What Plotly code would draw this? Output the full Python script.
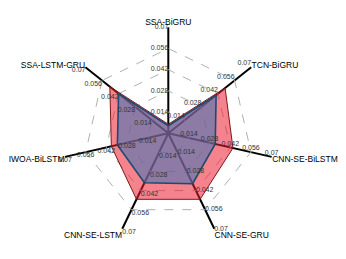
import plotly.graph_objects as go

categories = ['SSA-BiGRU', 'TCN-BiGRU', 'CNN-SE-BiLSTM', 'CNN-SE-GRU',
              'CNN-SE-LSTM', 'IWOA-BiLSTM', 'SSA-LSTM-GRU']
series_red = [0.0060, 0.0480, 0.0438, 0.0484, 0.0484, 0.0386, 0.0494]
series_blue = [0.0050, 0.0404, 0.0318, 0.0370, 0.0363, 0.0345, 0.0420]
tick_vals = [0.014, 0.028, 0.042, 0.056, 0.07]
tick_text = ['0.014', '0.028', '0.042', '0.056', '0.07']
label_pos = ['middle left', 'top left', 'top center', 'middle right',
             'bottom right', 'bottom center', 'bottom left']

# page body has an 8px margin; figure sized to fit inside the window
OFF = 8
W, H = 346 - OFF, 259 - OFF
cx, cy, R = 168.3 - OFF, 133.3 - OFF, 106

fig = go.Figure()

fig.add_trace(go.Scatterpolar(
    r=series_red + [series_red[0]], theta=categories + [categories[0]],
    mode='lines', fill='toself',
    fillcolor='rgba(235,30,50,0.55)',
    line=dict(color='#7a1a1a', width=1),
    hoverinfo='skip', showlegend=False, cliponaxis=False))

fig.add_trace(go.Scatterpolar(
    r=series_blue + [series_blue[0]], theta=categories + [categories[0]],
    mode='lines', fill='toself',
    fillcolor='rgba(71,118,181,0.6)',
    line=dict(color='#1d4a6e', width=1.6),
    hoverinfo='skip', showlegend=False, cliponaxis=False))

rr, tt, tx, tp = [], [], [], []
for cat, pos in zip(categories, label_pos):
    for v, t in zip(tick_vals, tick_text):
        rr.append(v); tt.append(cat); tx.append(t); tp.append(pos)

fig.add_trace(go.Scatterpolar(
    r=rr, theta=tt, text=tx, mode='text', textposition=tp,
    textfont=dict(size=7, color='#333333', family='Liberation Sans, Arial'),
    hoverinfo='skip', showlegend=False, cliponaxis=False))

fig.update_layout(
    width=W, height=H,
    margin=dict(l=0, r=0, t=0, b=0),
    paper_bgcolor='white',
    font=dict(family='Liberation Sans, Arial', size=8.5, color='black'),
    polar=dict(
        domain=dict(x=[(cx - R) / W, (cx + R) / W],
                    y=[1 - (cy + R) / H, 1 - (cy - R) / H]),
        bgcolor='white',
        gridshape='linear',
        radialaxis=dict(range=[0, 0.07 * 1.0002], autorange=False, tickvals=tick_vals,
                        showticklabels=False, ticks='', showline=False,
                        gridcolor='#b0b0b0', gridwidth=0.8, griddash='dash'),
        angularaxis=dict(direction='clockwise', rotation=90,
                         categoryarray=categories, categoryorder='array',
                         gridcolor='black', gridwidth=1.6,
                         showline=False,
                         ticks='', tickfont=dict(size=8.5, color='black')),
    ),
)

fig.write_html('out.html')
